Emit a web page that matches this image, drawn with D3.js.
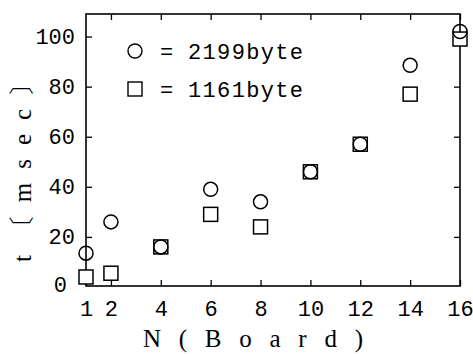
<!DOCTYPE html>
<html>
<head>
<meta charset="utf-8">
<script src="https://cdn.jsdelivr.net/npm/d3@7"></script>
<style>
  body { margin: 0; background: #fff; }
  text { fill: #000; }
</style>
</head>
<body>
<div id="chart"></div>
<script>
// board counts and times (msec)
var boards = [1, 2, 4, 6, 8, 10, 12, 14, 16];
var t2199 = [13.5, 26, 16, 39, 34, 46, 57, 88.5, 102];
var t1161 = [4, 5.5, 16, 29, 24, 46, 57, 77, 99];
var xTicks = [1, 2, 4, 6, 8, 10, 12, 14, 16];
var yTicks = [0, 20, 40, 60, 80, 100];
var legendLabels = ["2199byte", "1161byte"];

var width = 473, height = 354;
var margin = {left: 86, right: 13, top: 14, bottom: 68};
var mono = "'Liberation Mono', 'DejaVu Sans Mono', monospace";
var serif = "'Liberation Serif', 'DejaVu Serif', serif";

var svg = d3.select("#chart").append("svg")
  .attr("width", width)
  .attr("height", height);

var x = d3.scaleLinear().domain([1, 16]).range([margin.left, width - margin.right]);
var y = d3.scaleLinear().domain([0, 109]).range([height - margin.bottom + 1, margin.top]);

var plotBottom = height - margin.bottom;

// frame
svg.append("rect")
  .attr("x", margin.left)
  .attr("y", margin.top)
  .attr("width", width - margin.right - margin.left)
  .attr("height", plotBottom - margin.top)
  .attr("fill", "none")
  .attr("stroke", "#000")
  .attr("stroke-width", 1.6);

// inward ticks on all four sides
function axisStyle(g) {
  g.select(".domain").remove();
  g.selectAll(".tick line").attr("stroke", "#000").attr("stroke-width", 1.3);
  g.selectAll("text").style("font-family", mono).attr("font-size", 22);
}

svg.append("g")
  .attr("transform", "translate(0," + plotBottom + ")")
  .call(d3.axisBottom(x).tickValues(xTicks).tickSizeInner(-6).tickPadding(14))
  .call(axisStyle);

svg.append("g")
  .attr("transform", "translate(0," + margin.top + ")")
  .call(d3.axisTop(x).tickValues(xTicks.slice(1)).tickSize(-6).tickFormat(""))
  .call(axisStyle);

svg.append("g")
  .attr("transform", "translate(" + margin.left + ",0)")
  .call(d3.axisLeft(y).tickValues(yTicks.slice(1)).tickSizeInner(-6).tickPadding(11))
  .call(axisStyle);

// zero label sits beside the frame corner
svg.append("text")
  .attr("x", margin.left - 19)
  .attr("y", y(0) - 2)
  .attr("text-anchor", "end")
  .attr("dy", "0.32em")
  .attr("font-size", 22)
  .style("font-family", mono)
  .text(yTicks[0]);

svg.append("g")
  .attr("transform", "translate(" + (width - margin.right) + ",0)")
  .call(d3.axisRight(y).tickValues(yTicks.slice(1)).tickSize(-6).tickFormat(""))
  .call(axisStyle);

// markers
var r = 7;
svg.append("g").selectAll("rect")
  .data(boards)
  .enter()
  .append("rect")
  .attr("x", function(d) { return x(d) - r; })
  .attr("y", function(d, i) { return y(t1161[i]) - r; })
  .attr("width", 2 * r)
  .attr("height", 2 * r)
  .attr("fill", "#fff")
  .attr("stroke", "#000")
  .attr("stroke-width", 1.5);

svg.append("g").selectAll("circle")
  .data(boards)
  .enter()
  .append("circle")
  .attr("cx", function(d) { return x(d); })
  .attr("cy", function(d, i) { return y(t2199[i]); })
  .attr("r", r)
  .attr("fill", "none")
  .attr("stroke", "#000")
  .attr("stroke-width", 1.5);

// legend
var legendY = [51, 89];
svg.append("circle")
  .attr("cx", 135).attr("cy", legendY[0]).attr("r", r)
  .attr("fill", "none").attr("stroke", "#000").attr("stroke-width", 1.4);
svg.append("rect")
  .attr("x", 135 - r).attr("y", legendY[1] - r).attr("width", 2 * r).attr("height", 2 * r)
  .attr("fill", "none").attr("stroke", "#000").attr("stroke-width", 1.4);

legendLabels.forEach(function(s, i) {
  svg.append("text")
    .attr("x", 160)
    .attr("y", legendY[i])
    .attr("dy", "0.35em")
    .attr("font-size", 22)
    .style("font-family", mono)
    .text("=");
  svg.append("text")
    .attr("x", 188)
    .attr("y", legendY[i])
    .attr("dy", "0.35em")
    .attr("font-size", 22)
    .style("font-family", mono)
    .attr("textLength", 115)
    .attr("lengthAdjust", "spacing")
    .text(s);
});

// axis titles
svg.append("text")
  .attr("x", 143)
  .attr("y", 347)
  .attr("font-size", 25)
  .style("font-family", serif)
  .attr("textLength", 220)
  .attr("lengthAdjust", "spacing")
  .text("N(Board)");

var yTitle = svg.append("text")
  .attr("transform", "translate(31,262) rotate(-90)")
  .attr("font-size", 25)
  .style("font-family", serif)
  .attr("textLength", 192)
  .attr("lengthAdjust", "spacing");
yTitle.append("tspan").text("t");
yTitle.append("tspan").style("font-family", "'Noto Sans CJK JP'").style("font-weight", 300).text("〔");
yTitle.append("tspan").text("msec");
yTitle.append("tspan").style("font-family", "'Noto Sans CJK JP'").style("font-weight", 300).text("〕");
</script>
</body>
</html>
